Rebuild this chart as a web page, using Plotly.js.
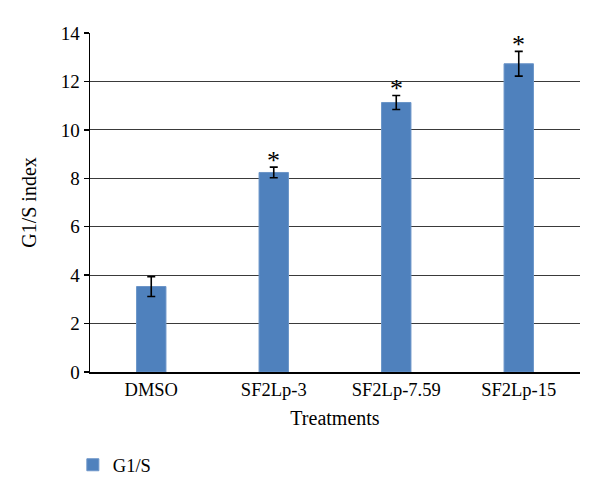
<!DOCTYPE html>
<html>
<head>
<meta charset="utf-8">
<script src="https://cdn.plot.ly/plotly-3.0.1.min.js"></script>
<style>html,body{margin:0;padding:0;background:#fff;}#chart{width:600px;height:498px;}</style>
</head>
<body>
<div id="chart"></div>
<script>
var categories = ["DMSO", "SF2Lp-3", "SF2Lp-7.59", "SF2Lp-15"];
var values = [3.53, 8.24, 11.13, 12.73];
var errors = [0.41, 0.22, 0.29, 0.51];
var significance = ["", "*", "*", "*"];
var seriesName = "G1/S";
var yTicks = [0, 2, 4, 6, 8, 10, 12, 14];

var fontFam = "Liberation Serif, Times New Roman, serif";

var trace = {
  type: "bar",
  x: categories,
  y: values,
  name: seriesName,
  width: 0.24,
  marker: {color: "#4F81BD", line: {color: "#6B95C8", width: 1}},
  error_y: {type: "data", array: errors, visible: true, color: "#000", thickness: 1.6, width: 4},
  showlegend: true
};

var annotations = [];
for (var i = 0; i < categories.length; i++) {
  if (significance[i]) {
    annotations.push({
      x: categories[i], y: values[i] + errors[i], xref: "x", yref: "y",
      text: significance[i], showarrow: false, yanchor: "bottom", yshift: -10,
      font: {family: fontFam, size: 26, color: "#000"}
    });
  }
}

var layout = {
  width: 600, height: 498,
  margin: {l: 90, r: 20, t: 33, b: 126},
  paper_bgcolor: "#fff", plot_bgcolor: "#fff",
  font: {family: fontFam, size: 18, color: "#000"},
  bargap: 0.76,
  xaxis: {
    type: "category",
    showgrid: false, showline: true, linecolor: "#000", linewidth: 1.5,
    ticks: "", tickfont: {family: fontFam, size: 18.5, color: "#000"},
    title: {text: "Treatments", font: {family: fontFam, size: 20, color: "#000"}, standoff: 12},
    automargin: false
  },
  yaxis: {
    range: [0, 14], tickvals: yTicks, ticktext: yTicks.map(String),
    showgrid: true, gridcolor: "#3a3a3a", gridwidth: 1,
    showline: true, linecolor: "#000", linewidth: 1.5,
    ticks: "outside", ticklen: 5, tickcolor: "#000", tickwidth: 1.5,
    zeroline: false,
    tickfont: {family: fontFam, size: 19, color: "#000"},
    title: {text: "G1/S index", font: {family: fontFam, size: 20, color: "#000"}, standoff: 18},
    automargin: false
  },
  legend: {
    orientation: "h", x: -0.035, xanchor: "left", y: -0.275, yanchor: "middle",
    font: {family: fontFam, size: 18.5, color: "#000"}, bgcolor: "rgba(0,0,0,0)"
  },
  annotations: annotations
};

Plotly.newPlot("chart", [trace], layout, {displayModeBar: false, staticPlot: true});
</script>
</body>
</html>
